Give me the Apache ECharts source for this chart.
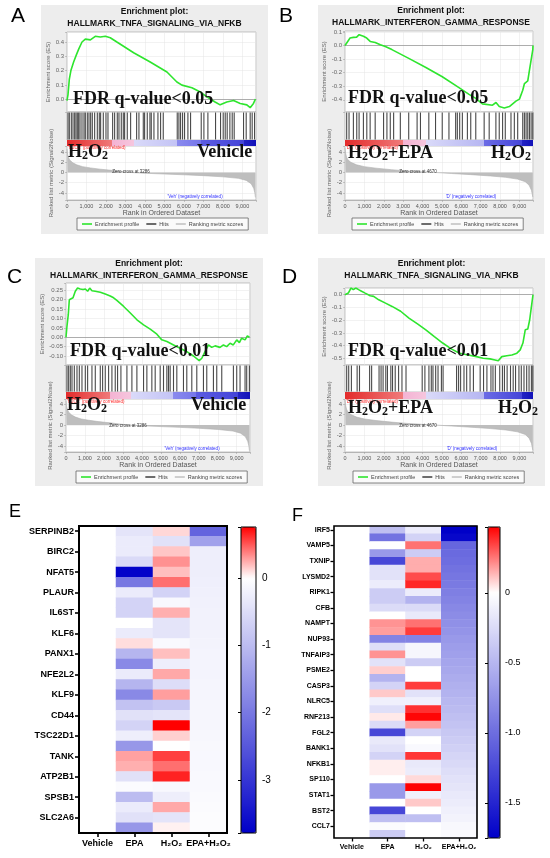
<!DOCTYPE html>
<html>
<head>
<meta charset="utf-8">
<title>GSEA enrichment plots and heatmaps</title>
<script src="https://cdn.jsdelivr.net/npm/echarts@6.0.0/dist/echarts.min.js"></script>
<style>
  html, body { margin: 0; padding: 0; background: #fff; }
  #main { width: 550px; height: 858px; }
</style>
</head>
<body>
<div id="main"></div>
<script>
// ---------------- values ----------------
var rankMax = 9700;

// A: TNFA via NFKB, H2O2 vs Vehicle  [rank, ES]
var esA = [[0,-0.01],[50,0.03],[120,0.14],[200,0.2],[340,0.26],[480,0.31],[600,0.35],[770,0.4],[940,0.42],
  [1200,0.415],[1450,0.44],[1710,0.435],[1970,0.44],[2220,0.43],[2560,0.4],[3420,0.325],[4270,0.26],[5130,0.19],
  [5640,0.12],[5900,0.098],[6410,0.08],[6840,0.05],[7180,0.016],[7600,-0.02],[7860,-0.04],[8200,-0.02],[8550,-0.01],
  [8890,-0.03],[9230,-0.04],[9400,-0.06],[9570,-0.03],[9670,0.0]];
var hitsA = [51,120,222,308,393,462,530,598,667,769,872,940,1043,1128,1214,1299,1419,1556,1658,1726,1863,2000,2103,
  2342,2444,2581,2667,2786,2889,2957,3094,3265,3573,3692,3915,3983,4120,4256,4325,4462,4667,4803,4940,5658,5744,5829,
  5932,6034,6205,6342,6889,7026,7231,7624,7880,8017,8120,8222,8359,8479,8581,9060,9197,9402,9504,9624];

// B: IFN gamma response, H2O2+EPA vs H2O2
var esB = [[0,0],[50,-0.008],[140,0.03],[260,0.055],[430,0.06],[600,0.062],[730,0.08],[830,0.085],[950,0.068],
  [1120,0.055],[1300,0.03],[1560,0.022],[1820,0.005],[2080,-0.008],[2420,-0.03],[3290,-0.095],[4150,-0.16],[5020,-0.23],
  [5880,-0.31],[6400,-0.36],[6750,-0.39],[7090,-0.43],[7610,-0.44],[7790,-0.42],[7960,-0.45],[8220,-0.46],[8480,-0.45],
  [8650,-0.43],[8820,-0.41],[9000,-0.395],[9170,-0.33],[9260,-0.28],[9430,-0.26],[9520,-0.18],[9600,-0.11],[9690,-0.03],[9700,0.0]];
var hitsB = [87,208,433,606,727,950,1125,1297,1557,1990,2163,2336,2509,2855,3287,3720,3893,4325,4671,5017,5363,5709,
  5796,5917,6055,6315,6488,6747,7180,7439,7785,7958,8131,8270,8564,8737,8910,9170,9256,9343,9429,9516,9602,9689];

// C: IFN gamma response, H2O2 vs Vehicle
var esC = [[0,0],[50,0.057],[120,0.12],[175,0.2],[260,0.196],[370,0.21],[490,0.245],[610,0.262],[750,0.257],[900,0.254],
  [1020,0.257],[1140,0.245],[1250,0.262],[1370,0.248],[1540,0.245],[1630,0.254],[1810,0.24],[2070,0.23],[2330,0.22],
  [2510,0.21],[2680,0.196],[3040,0.164],[3390,0.129],[3740,0.093],[4090,0.066],[4440,0.043],[4790,0.016],[5050,-0.014],
  [5320,-0.023],[5670,-0.041],[6020,-0.059],[6370,-0.077],[6720,-0.1],[7020,-0.125],[7160,-0.112],[7330,-0.077],
  [7510,-0.041],[7680,-0.054],[7860,-0.046],[8120,-0.054],[8300,-0.041],[8470,-0.05],[8650,-0.032],[8820,-0.041],
  [9000,-0.014],[9140,-0.029],[9260,-0.005],[9440,-0.014],[9560,0.007],[9670,0]];
var hitsC = [53,140,228,316,439,579,702,842,1018,1140,1368,1544,1807,1930,2070,2246,2421,2596,2719,2895,3211,3474,3737,
  4088,4263,4526,4702,4965,5140,5316,5404,5491,5667,5842,6193,6368,6632,6895,7246,7421,7772,7947,8211,8825,9000,9175,
  9439,9526,9667];

// D: TNFA via NFKB, H2O2+EPA vs H2O2
var esD = [[0,0],[50,-0.008],[170,0.013],[310,0.053],[430,0.04],[560,0.053],[700,0.04],[830,0.03],[1040,0.013],
  [1300,-0.008],[1480,-0.013],[1740,-0.04],[2090,-0.066],[2430,-0.092],[2870,-0.13],[3300,-0.184],[3740,-0.229],
  [4170,-0.276],[4610,-0.33],[5040,-0.38],[5480,-0.426],[5910,-0.46],[6350,-0.474],[6780,-0.487],[7130,-0.5],
  [7480,-0.505],[7740,-0.513],[7910,-0.52],[8090,-0.487],[8350,-0.48],[8610,-0.474],[8870,-0.46],[9040,-0.434],
  [9180,-0.38],[9300,-0.276],[9430,-0.27],[9530,-0.197],[9620,-0.092],[9700,0.0]];
var hitsD = [87,191,330,626,748,1270,1374,1757,1861,1965,2104,2191,2365,2452,2591,2765,2939,3148,3983,4122,4330,4452,
  4539,4678,4800,4974,5061,5757,5861,5965,6139,6278,6452,6626,6974,7148,7322,7530,7635,7757,7983,8122,8226,8365,8539,
  8678,8800,8974,9096,9235,9374,9496,9617,9690];

// ranked list metric (Signal2Noise)
var metricH2O2Veh = [[0,4.6],[30,3.6],[80,2.9],[150,2.4],[300,1.9],[500,1.5],[800,1.15],[1200,0.9],[1700,0.65],
  [2300,0.42],[2800,0.2],[3286,0],[4000,-0.15],[5000,-0.3],[6000,-0.45],[7000,-0.62],[8000,-0.85],[8800,-1.15],
  [9200,-1.55],[9450,-2.2],[9580,-3.1],[9640,-4.0],[9670,-4.9]];
var metricEPAH2O2 = [[0,4.8],[30,3.8],[80,3.0],[150,2.5],[300,2.0],[600,1.5],[1000,1.15],[1600,0.85],[2400,0.55],
  [3200,0.3],[4000,0.12],[4670,0],[5500,-0.2],[6500,-0.42],[7500,-0.68],[8300,-0.95],[8900,-1.3],[9300,-1.8],
  [9500,-2.5],[9620,-3.5],[9690,-4.8]];

// where the colour bar under the hits changes shade (rank)
var barBreaksH2O2Veh = [2325, 3436, 5658, 6855, 9077];
var barBreaksEPAH2O2 = [2974, 4191, 7148, 9148];

// E heatmap (TNFA genes); every other row is labelled
var conditions = ['Vehicle', 'EPA', 'H\u2082O\u2082', 'EPA+H\u2082O\u2082'];
var eGenes = ['SERPINB2','BIRC2','NFAT5','PLAUR','IL6ST','KLF6','PANX1','NFE2L2','KLF9','CD44','TSC22D1','TANK','ATP2B1','SPSB1','SLC2A6'];
var eVehicle = [0,0,0,0,0,0,0,0,0,0,0,0,0,0,0,0,0,0,0,0,0,0,0,0,0,0,0,0,0,0];
var eEPA = [-0.4,-0.3,-0.3,-0.55,-3.75,-2.0,-0.3,-0.65,-0.65,0,-0.3,0.1,-1.1,-1.75,-0.3,-1.1,-1.75,-0.9,-0.45,-0.65,
  -0.25,-1.55,0.28,0.24,-0.45,-0.06,-1.0,-0.3,-0.45,-1.55];
var eH2O2 = [0.12,-0.45,0.17,0.33,0.19,0.43,-0.65,-0.1,0.24,-0.4,-0.4,-0.08,0.19,-0.25,0.26,-0.5,0.29,-0.8,-0.4,0.76,
  0.14,0,0.57,0.43,0.66,-0.1,-0.25,0.26,-0.4,0.04];
var eEPAH2O2 = [-2.3,-1.4,-0.26,-0.25,-0.25,-0.23,-0.22,-0.21,-0.2,-0.19,-0.19,-0.18,-0.17,-0.17,-0.16,-0.15,-0.15,
  -0.14,-0.13,-0.13,-0.12,-0.11,-0.1,-0.1,-0.09,-0.08,-0.07,-0.06,-0.05,-0.04];
var eRange = [-3.79, 0.76];

// F heatmap (IFN gamma genes)
var fGenes = ['IRF5','VAMP5','TXNIP','LYSMD2','RIPK1','CFB','NAMPT','NUP93','TNFAIP3','PSME2','CASP3','NLRC5','RNF213',
  'FGL2','BANK1','NFKB1','SP110','STAT1','BST2','CCL7'];
var fVehicle = [0,0,0,0,0,0,0,0,0,0,0,0,0,0,0,0,0,0,0,0,0,0,0,0,0,0,0,0,0,0,0,0,0,0,0,0,0,0,0,0];
var fEPA = [-0.44,-0.96,0,-0.7,-1.26,-0.2,-0.2,-0.13,-0.35,-0.35,-0.25,0,0.2,0.18,-0.85,-0.22,0.2,-0.2,0.09,-0.52,
  -0.3,0.1,-0.1,-0.22,0.04,-0.25,-1.26,-0.15,-0.2,-0.3,0.03,0.03,0,-0.7,-0.7,0,-1.26,-0.44,-0.03,-0.35];
var fH2O2 = [-0.13,-0.3,0.26,-0.35,0.15,0.15,0.33,0.4,-0.13,-0.52,-0.25,-0.15,0.26,0.36,-0.85,-0.06,-0.06,-0.35,0,0,
  0.36,-0.2,-0.1,0.38,0.46,0.18,-0.3,0,-0.04,0.37,-0.15,-0.13,0.07,0.47,-0.1,0.1,0,-0.44,0,0];
var fEPAH2O2 = [-1.75,-1.7,-1.05,-1.02,-1.0,-0.97,-0.94,-0.91,-0.88,-0.85,-0.82,-0.79,-0.76,-0.73,-0.7,-0.67,-0.65,
  -0.62,-0.6,-0.57,-0.54,-0.52,-0.49,-0.47,-0.44,-0.41,-0.38,-0.35,-0.32,-0.29,-0.26,-0.23,-0.2,-0.18,-0.15,-0.13,
  -0.1,-0.08,-0.05,-0.03];
var fRange = [-1.75, 0.47];

// ---------------- styling / layout ----------------
var SANS = '"Liberation Sans", Arial, Helvetica, sans-serif';
var SERIF = '"Liberation Serif", "Times New Roman", serif';

var grids = [], xAxes = [], yAxes = [], series = [], graphics = [], legends = [], visualMaps = [];

function addGrid(g, x, y) {
  grids.push(g);
  var i = grids.length - 1;
  x.gridIndex = i; y.gridIndex = i;
  xAxes.push(x); yAxes.push(y);
  return i;
}

function txt(x, y, s, size, o) {
  o = o || {};
  return {
    type: 'text', x: x, y: y, z: o.z || 50, silent: true,
    style: {
      text: s, fontSize: size, fontFamily: o.family || SANS, fontWeight: o.weight || 'normal',
      fill: o.color || '#000', align: o.align || 'left', textAlign: o.align || 'left',
      verticalAlign: o.va || 'middle', textVerticalAlign: o.va || 'middle', rich: o.rich
    }
  };
}

function stepFmt(step, dec) {
  return function (v) {
    var k = v / step;
    return Math.abs(k - Math.round(k)) < 1e-6 ? v.toFixed(dec) : '';
  };
}
function commaFmt(v) {
  if (v % 1000 !== 0) return '';
  return String(v).replace(/\B(?=(\d{3})+(?!\d))/g, ',');
}

var bigRich = {
  b: { fontFamily: SERIF, fontWeight: 'bold', fontSize: 18, lineHeight: 18, verticalAlign: 'top', fill: '#111' },
  s: { fontFamily: SERIF, fontWeight: 'bold', fontSize: 12, lineHeight: 14, verticalAlign: 'bottom', fill: '#111' }
};
function bigLabel(x, baseline, rich) {
  return txt(x, baseline - 15.3, rich, 18, { va: 'top', rich: bigRich, z: 60 });
}
var H2O2 = '{b|H}{s|2}{b|O}{s|2}';

var shades6 = [['#e32b2b','#f07a7a'],['#f4b3d3','#f6c6de'],['#dadaf9','#c3c3f5'],['#8a8aee','#7676ea'],['#5c5ce2','#4444d8'],['#2323c4','#1111b8']];
var shades5 = [['#e32b2b','#f07a7a'],['#f4b3d3','#f6c6de'],['#dadaf9','#b6b6f2'],['#6c6ce6','#4444d8'],['#2323c4','#1111b8']];

function barGradient(breaks, shades) {
  var edges = [0].concat(breaks, [rankMax]);
  var stops = [];
  for (var i = 0; i < shades.length; i++) {
    stops.push({ offset: edges[i] / rankMax, color: shades[i][0] });
    stops.push({ offset: edges[i + 1] / rankMax, color: shades[i][1] });
  }
  return new echarts.graphic.LinearGradient(0, 0, 1, 0, stops);
}

var gridLine = { color: '#e4e4e4', width: 0.5 };
var smallAxisText = { fontSize: 6, color: '#666', fontFamily: SANS };

function gseaPanel(p) {
  var b = p.box, cx = b[0] + b[2] / 2;
  graphics.push({ type: 'rect', z: -10, silent: true, shape: { x: b[0], y: b[1], width: b[2], height: b[3] }, style: { fill: '#ededed' } });
  graphics.push(txt(cx, p.titleY, 'Enrichment plot:', 8.5, { weight: 'bold', align: 'center', color: '#111' }));
  graphics.push(txt(cx, p.titleY + 12, p.geneSet, 8.5, { weight: 'bold', align: 'center', color: '#111' }));
  graphics.push(txt(p.letter[1], p.letter[2], p.letter[0], 21, { va: 'top', color: '#000' }));

  var top = p.esTop;
  // enrichment score
  var g = addGrid(
    { left: p.left, top: top, width: p.width, height: p.esH, show: true, backgroundColor: '#fff', borderColor: '#a0a0a0', borderWidth: 0.6 },
    { type: 'value', min: 0, max: rankMax, interval: 1000, axisLabel: { show: false }, axisTick: { show: false },
      axisLine: { show: true, onZero: true, lineStyle: { color: '#9a9a9a', width: 0.8 } }, splitLine: { show: true, lineStyle: gridLine } },
    { type: 'value', min: p.esMin, max: p.esMax, splitNumber: p.esSplit, name: 'Enrichment score (ES)', nameLocation: 'middle',
      nameGap: 13, nameTextStyle: smallAxisText, axisLine: { show: false },
      axisTick: { show: true, length: 2, lineStyle: { color: '#999', width: 0.5 } },
      axisLabel: { fontSize: 6, color: '#666', margin: 3, formatter: stepFmt(p.esStep, p.esDec) },
      splitLine: { show: true, lineStyle: gridLine } });
  series.push({ type: 'line', name: 'Enrichment profile', xAxisIndex: g, yAxisIndex: g, data: p.es, showSymbol: false,
    lineStyle: { color: '#2ee52e', width: 1.6 }, itemStyle: { color: '#2ee52e' }, z: 3, silent: true });
  top += p.esH;

  // hits
  g = addGrid(
    { left: p.left, top: top, width: p.width, height: p.hitsH, show: true, backgroundColor: '#fff', borderColor: '#a0a0a0', borderWidth: 0.6 },
    { type: 'value', min: 0, max: rankMax, show: false },
    { type: 'value', min: 0, max: 1, show: false });
  series.push({ type: 'scatter', name: 'Hits', xAxisIndex: g, yAxisIndex: g, symbol: 'rect', symbolSize: [1.1, p.hitsH - 1],
    data: p.hits.map(function (r) { return [r, 0.5]; }), itemStyle: { color: '#1c1c1c' }, silent: true });
  top += p.hitsH;

  // colour bar of the ranked list
  g = addGrid(
    { left: p.left, top: top, width: p.width, height: p.cbH },
    { type: 'value', min: 0, max: rankMax, show: false },
    { type: 'value', min: 0, max: 1, show: false });
  series.push({ type: 'line', xAxisIndex: g, yAxisIndex: g, data: [[0, 1], [rankMax, 1]], showSymbol: false, silent: true,
    lineStyle: { width: 0 }, areaStyle: { color: barGradient(p.breaks, p.shades), opacity: 1 } });
  top += p.cbH;

  // ranked list metric
  g = addGrid(
    { left: p.left, top: top, width: p.width, height: p.rkH, show: true, backgroundColor: '#fff', borderColor: '#a0a0a0', borderWidth: 0.6 },
    { type: 'value', min: 0, max: rankMax, interval: 1000, name: 'Rank in Ordered Dataset', nameLocation: 'middle', nameGap: 9,
      nameTextStyle: { fontSize: 7, color: '#555', fontFamily: SANS },
      axisLine: { onZero: false, lineStyle: { color: '#999', width: 0.6 } }, axisTick: { length: 2, lineStyle: { color: '#999', width: 0.5 } },
      axisLabel: { fontSize: 5.5, color: '#555', margin: 3, formatter: commaFmt }, splitLine: { show: true, lineStyle: gridLine } },
    { type: 'value', min: p.rkMin, max: p.rkMax, splitNumber: 5, name: 'Ranked list metric (Signal2Noise)', nameLocation: 'middle',
      nameGap: 10, nameTextStyle: smallAxisText, axisLine: { show: false },
      axisTick: { show: true, length: 2, lineStyle: { color: '#999', width: 0.5 } },
      axisLabel: { fontSize: 6, color: '#666', margin: 3, formatter: stepFmt(2, 0) }, splitLine: { show: true, lineStyle: gridLine } });
  series.push({ type: 'line', name: 'Ranking metric scores', xAxisIndex: g, yAxisIndex: g, data: p.metric, showSymbol: false, silent: true,
    lineStyle: { color: '#b0b0b0', width: 0.6 }, itemStyle: { color: '#c4c4c4' }, areaStyle: { color: '#bebebe', opacity: 1 } });

  // small GSEA annotations
  graphics.push(txt(p.posText[1], p.posText[2], p.posText[0], 4.5, { color: '#ff2a2a' }));
  graphics.push(txt(p.zeroText[1], p.zeroText[2], p.zeroText[0], 4.5, { color: '#333', align: 'center' }));
  graphics.push(txt(p.negText[1], p.negText[2], p.negText[0], 4.5, { color: '#3030ff', align: 'center' }));

  // overlaid labels
  graphics.push(bigLabel(p.fdr[1], p.fdr[2], '{b|' + p.fdr[0] + '}'));
  graphics.push(bigLabel(p.leftLab[1], p.leftLab[2], p.leftLab[0]));
  graphics.push(bigLabel(p.rightLab[1], p.rightLab[2], p.rightLab[0]));

  legends.push({ left: p.legend[0], top: p.legend[1], orient: 'horizontal', icon: 'rect', itemWidth: 10, itemHeight: 1.6,
    itemGap: 7, padding: [3, 5, 3, 5], borderColor: '#666', borderWidth: 0.8, backgroundColor: '#fafafa', selectedMode: false,
    textStyle: { fontSize: 5.5, color: '#444', fontFamily: SANS, padding: [0, 0, 0, -2] },
    data: ['Enrichment profile', 'Hits', 'Ranking metric scores'] });
}

// blue -> white (at 0) -> red, fine enough that 0 lands on white
function ramp(min, max) {
  var blue = [0, 0, 200], red = [255, 0, 0], out = [], n = 1000;
  for (var i = 0; i <= n; i++) {
    var v = min + (max - min) * i / n;
    var c = v < 0 ? blue : red, t = v < 0 ? v / min : v / max;
    var rgb = [0, 1, 2].map(function (k) { return Math.round(255 + (c[k] - 255) * t); });
    out.push('rgb(' + rgb.join(',') + ')');
  }
  return out;
}

function heatPanel(p) {
  var rows = [];
  p.genes.forEach(function (gname, i) { rows.push(gname); rows.push('row' + (2 * i + 1)); });
  var cols = [p.vehicle, p.epa, p.h2o2, p.epah2o2];
  var data = [];
  cols.forEach(function (col, ci) { col.forEach(function (v, ri) { data.push([ci, ri, v]); }); });

  graphics.push(txt(p.letter[1], p.letter[2], p.letter[0], 18, { va: 'top' }));

  var g = addGrid(
    { left: p.left, top: p.top, width: p.width, height: p.height, show: true, backgroundColor: 'transparent',
      borderColor: '#000', borderWidth: p.border, z: 10 },
    { type: 'category', data: conditions, axisLine: { show: false }, splitLine: { show: false },
      axisTick: { show: true, alignWithLabel: true, length: p.tick, lineStyle: { color: '#000', width: p.tickW } },
      axisLabel: { fontSize: p.xFont, fontWeight: 'bold', color: '#000', margin: p.xMargin, fontFamily: SANS, interval: 0 } },
    { type: 'category', data: rows, inverse: true, axisLine: { show: false }, splitLine: { show: false },
      axisTick: { show: true, interval: 1, alignWithLabel: true, length: p.tick, lineStyle: { color: '#000', width: p.tickW } },
      axisLabel: { interval: 1, fontSize: p.yFont, fontWeight: 'bold', color: '#000', margin: p.yMargin, fontFamily: SANS } });
  series.push({ type: 'heatmap', xAxisIndex: g, yAxisIndex: g, data: data, silent: true, itemStyle: { borderWidth: 0 } });

  visualMaps.push({ type: 'continuous', seriesIndex: series.length - 1, min: p.range[0], max: p.range[1],
    inRange: { color: ramp(p.range[0], p.range[1]) }, calculable: false, hoverLink: false, left: p.cb[0], top: p.cb[1],
    itemWidth: p.cb[2], itemHeight: p.cb[3], padding: 0, text: null });

  addGrid(
    { left: p.cb[0], top: p.cb[1], width: p.cb[2], height: p.cb[3], show: true, backgroundColor: 'transparent',
      borderColor: '#000', borderWidth: 1, z: 10 },
    { type: 'value', min: 0, max: 1, show: false },
    { type: 'value', position: 'right', min: p.range[0], max: p.range[1], splitNumber: 5, axisLine: { show: false },
      splitLine: { show: false }, axisTick: { show: true, inside: true, length: 3, lineStyle: { color: '#000', width: 1 } },
      axisLabel: { fontSize: p.cbFont, color: '#000', margin: p.cbMargin, fontFamily: SANS, formatter: p.cbFmt } });
}

// ---------------- panels ----------------
gseaPanel({
  letter: ['A', 11, 6], box: [41, 5, 227, 229], titleY: 12, geneSet: 'HALLMARK_TNFA_SIGNALING_VIA_NFKB',
  left: 67, width: 189, esTop: 32, esH: 80, hitsH: 28, cbH: 6, rkH: 54,
  es: esA, esMin: -0.09, esMax: 0.47, esSplit: 5, esStep: 0.1, esDec: 1,
  hits: hitsA, metric: metricH2O2Veh, rkMin: -5.4, rkMax: 5.2, breaks: barBreaksH2O2Veh, shades: shades6,
  posText: ["'H2O2' (positively correlated)", 68, 148], zeroText: ['Zero cross at 3286', 131, 172],
  negText: ["'Veh' (negatively correlated)", 195, 197],
  fdr: ['FDR q-value<0.05', 73, 106], leftLab: [H2O2, 68, 159], rightLab: ['{b|Vehicle}', 197, 159],
  legend: [77, 218]
});
gseaPanel({
  letter: ['B', 279, 6], box: [318, 5, 226, 229], titleY: 11, geneSet: 'HALLMARK_INTERFERON_GAMMA_RESPONSE',
  left: 345, width: 188, esTop: 31, esH: 81, hitsH: 28, cbH: 6, rkH: 54,
  es: esB, esMin: -0.49, esMax: 0.107, esSplit: 5, esStep: 0.1, esDec: 1,
  hits: hitsB, metric: metricEPAH2O2, rkMin: -5.4, rkMax: 5.2, breaks: barBreaksEPAH2O2, shades: shades5,
  posText: ["'DE' (positively correlated)", 346, 148], zeroText: ['Zero cross at 4670', 418, 172],
  negText: ["'D' (negatively correlated)", 471, 197],
  fdr: ['FDR q-value<0.05', 348, 105], leftLab: [H2O2 + '{b|+EPA}', 348, 160], rightLab: [H2O2, 491, 160],
  legend: [352, 218]
});
gseaPanel({
  letter: ['C', 7, 267], box: [35, 258, 228, 228], titleY: 264, geneSet: 'HALLMARK_INTERFERON_GAMMA_RESPONSE',
  left: 66, width: 184, esTop: 283, esH: 82, hitsH: 27, cbH: 7, rkH: 53,
  es: esC, esMin: -0.148, esMax: 0.289, esSplit: 9, esStep: 0.05, esDec: 2,
  hits: hitsC, metric: metricH2O2Veh, rkMin: -5.14, rkMax: 4.95, breaks: barBreaksH2O2Veh, shades: shades6,
  posText: ["'H2O2' (positively correlated)", 67, 402], zeroText: ['Zero cross at 3286', 128, 426],
  negText: ["'Veh' (negatively correlated)", 192, 449],
  fdr: ['FDR q-value<0.01', 70, 358], leftLab: [H2O2, 67, 412], rightLab: ['{b|Vehicle}', 191, 412],
  legend: [76, 471]
});
gseaPanel({
  letter: ['D', 282, 267], box: [318, 258, 227, 228], titleY: 264, geneSet: 'HALLMARK_TNFA_SIGNALING_VIA_NFKB',
  left: 345, width: 188, esTop: 288, esH: 77, hitsH: 27, cbH: 7, rkH: 53,
  es: esD, esMin: -0.553, esMax: 0.053, esSplit: 5, esStep: 0.1, esDec: 1,
  hits: hitsD, metric: metricEPAH2O2, rkMin: -5.14, rkMax: 4.95, breaks: barBreaksEPAH2O2, shades: shades5,
  posText: ["'DE' (positively correlated)", 346, 402], zeroText: ['Zero cross at 4670', 418, 426],
  negText: ["'D' (negatively correlated)", 472, 449],
  fdr: ['FDR q-value<0.01', 348, 358], leftLab: [H2O2 + '{b|+EPA}', 348, 415], rightLab: [H2O2, 498, 415],
  legend: [353, 471]
});

heatPanel({
  letter: ['E', 9, 503], genes: eGenes, vehicle: eVehicle, epa: eEPA, h2o2: eH2O2, epah2o2: eEPAH2O2, range: eRange,
  left: 79, top: 526, width: 148, height: 307, border: 2, tick: 4, tickW: 1.6, xFont: 9, yFont: 9, xMargin: 6, yMargin: 5,
  cb: [241, 527, 15, 306], cbFont: 10, cbMargin: 6, cbFmt: stepFmt(1, 0)
});
heatPanel({
  letter: ['F', 292, 507], genes: fGenes, vehicle: fVehicle, epa: fEPA, h2o2: fH2O2, epah2o2: fEPAH2O2, range: fRange,
  left: 334, top: 526, width: 143, height: 312, border: 1.6, tick: 3.5, tickW: 1.3, xFont: 7, yFont: 7, xMargin: 6, yMargin: 4,
  cb: [488, 527, 12, 311], cbFont: 9, cbMargin: 5,
  cbFmt: function (v) { var k = v / 0.5; if (Math.abs(k - Math.round(k)) > 1e-6) return ''; return v === 0 ? '0' : v.toFixed(1); }
});

var chart = echarts.init(document.getElementById('main'), null, { renderer: 'canvas' });
chart.setOption({
  backgroundColor: '#fff',
  animation: false,
  textStyle: { fontFamily: SANS },
  grid: grids,
  xAxis: xAxes,
  yAxis: yAxes,
  legend: legends,
  visualMap: visualMaps,
  graphic: { elements: graphics },
  series: series
});
</script>
</body>
</html>
